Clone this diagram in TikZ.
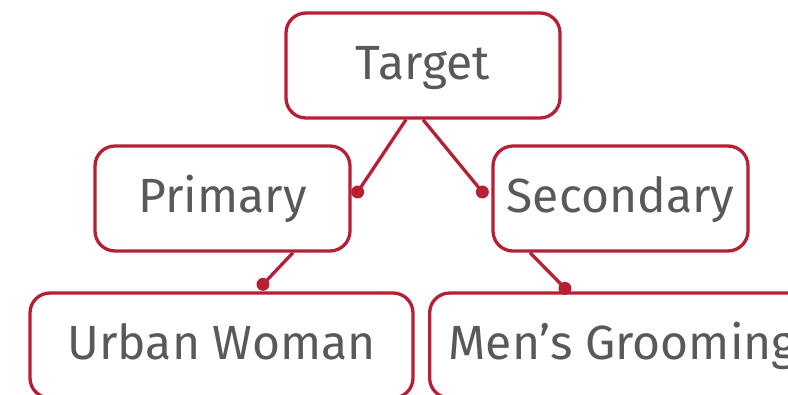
\documentclass[tikz,border=0pt]{standalone}
\usepackage{fontspec}
\setmainfont{Fira Sans}
\usetikzlibrary{positioning}
\definecolor{boxred}{HTML}{B71F35}
\definecolor{textgray}{HTML}{58595B}

\begin{document}
\begin{tikzpicture}[x=1pt, y=-1pt, every node/.style={font=\fontsize{48}{56}\selectfont, text=textgray},
	box/.style={draw=boxred, line width=3.3pt, rounded corners=20pt, minimum height=105pt, inner xsep=0pt, text height=29pt, text depth=0pt},
	link/.style={draw=boxred, line width=3.3pt}]
	\useasboundingbox (0,0) rectangle (788,395);
	\clip (0,0) rectangle (788,395);
	% boxes
	\node[box, minimum width=274pt] (target) at (423,65.5) {Target};
	\node[box, minimum width=255pt] (primary) at (222.5,198.5) {Primary};
	\node[box, minimum width=255pt] (secondary) at (620.5,198.5) {Secondary};
	\node[box, minimum width=383pt] (urban) at (221.5,345.5) {Urban Woman};
	\node[box, anchor=west, inner xsep=19pt] (mens) at (428,345.5) {Men’s Grooming};
	% dot ends
	\coordinate (p-end) at ([xshift=6pt, yshift=6.5pt]primary.east);
	\coordinate (s-end) at ([xshift=-9pt, yshift=6.5pt]secondary.west);
	\coordinate (u-end) at ([xshift=41.5pt, yshift=7pt]urban.north);
	\coordinate (m-end) at ([xshift=137pt, yshift=3pt]mens.north west);
	\draw[link] ([xshift=-17pt]target.south) -- (p-end);
	\draw[link] (target.south) -- (s-end);
	\draw[link] ([xshift=70.5pt]primary.south) -- (u-end);
	\draw[link] ([xshift=-90.5pt]secondary.south) -- (m-end);
	\fill[boxred] (p-end) circle (6.5pt) (s-end) circle (6.5pt) (u-end) circle (6.5pt) (m-end) circle (6.5pt);
\end{tikzpicture}
\end{document}
